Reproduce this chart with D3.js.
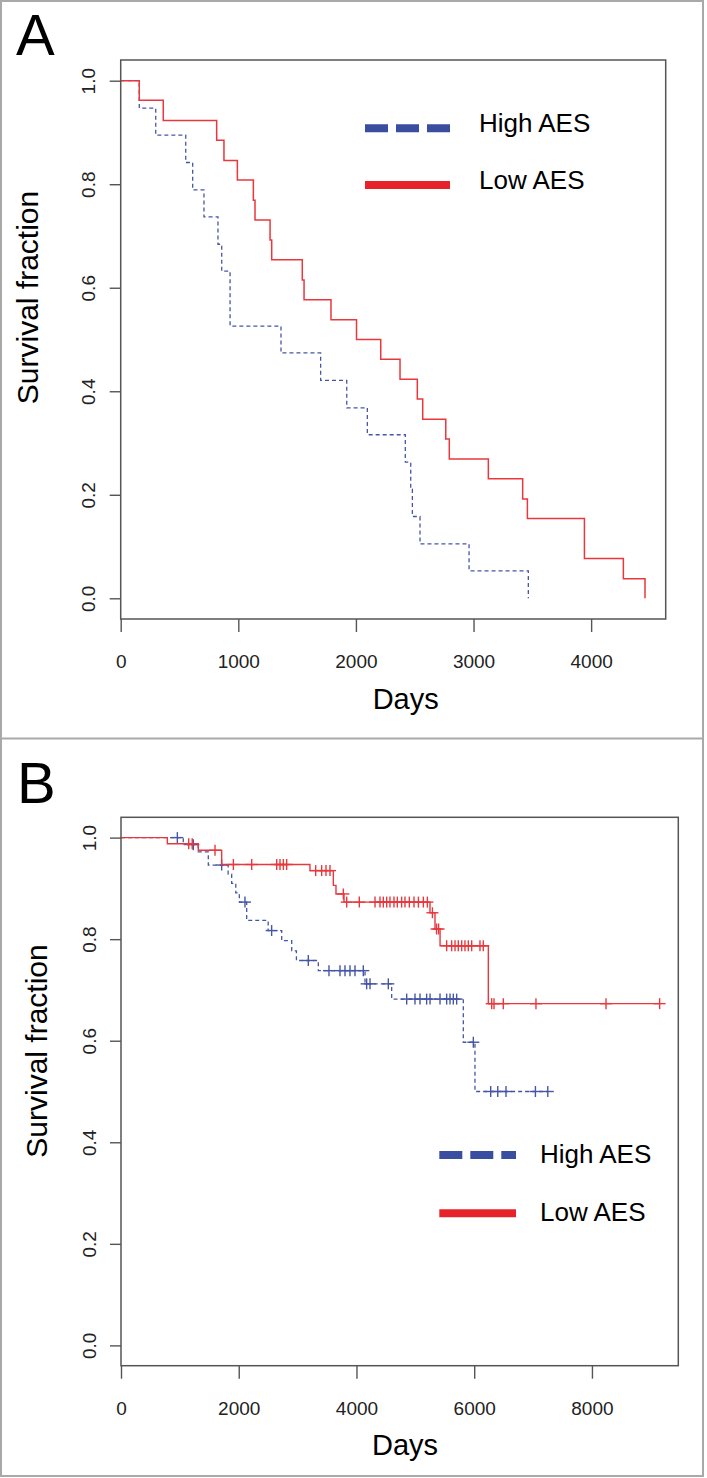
<!DOCTYPE html>
<html><head><meta charset="utf-8">
<script src="https://cdn.jsdelivr.net/npm/d3@7"></script>
<style>
body{margin:0;background:#fff}
svg{display:block}
text{font-family:"Liberation Sans",Arial,Helvetica,sans-serif}
</style>
</head><body>
<svg id="chart" width="707" height="1478"></svg>
<script>
// ---------- DATA ----------
const yTicks = [0, 0.2, 0.4, 0.6, 0.8, 1.0];
const yTickLabels = ["0.0", "0.2", "0.4", "0.6", "0.8", "1.0"];
const aXTicks = [0, 1000, 2000, 3000, 4000];
const bXTicks = [0, 2000, 4000, 6000, 8000];
const seriesNames = ["High AES", "Low AES"];

// Panel A  (Kaplan-Meier steps: time of event, survival after event)
const aHighTimes = [158, 298, 553, 612, 708, 827, 859, 930, 1363, 1700, 1922, 2097, 2420, 2466, 2480, 2545, 2962, 3466];
const aHighSurv  = [0.947, 0.895, 0.842, 0.789, 0.737, 0.684, 0.632, 0.526, 0.474, 0.421, 0.368, 0.316, 0.263, 0.211, 0.158, 0.105, 0.053, 0.0];
const aLowTimes  = [158, 362, 816, 878, 992, 1128, 1142, 1270, 1284, 1544, 1559, 1788, 2005, 2211, 2375, 2522, 2568, 2764, 2794, 3126, 3418, 3458, 3943, 4274, 4458];
const aLowSurv   = [0.962, 0.923, 0.885, 0.846, 0.808, 0.769, 0.731, 0.692, 0.654, 0.615, 0.577, 0.538, 0.500, 0.462, 0.423, 0.385, 0.346, 0.308, 0.269, 0.231, 0.192, 0.154, 0.077, 0.038, 0.0];

// Panel B
const bHighTimes  = [1058, 1313, 1483, 1820, 1880, 1950, 2010, 2135, 2500, 2730, 2900, 2980, 3352, 4145, 4598, 5815, 6013];
const bHighSurv   = [0.986, 0.972, 0.946, 0.928, 0.910, 0.891, 0.873, 0.837, 0.817, 0.797, 0.777, 0.758, 0.738, 0.712, 0.682, 0.597, 0.500];
const bHighCensor = [957, 1228, 1710, 2106, 2559, 3182, 3533, 3720, 3805, 3890, 3975, 4116, 4173, 4230, 4541, 4853, 4994, 5079, 5192, 5250, 5419, 5532, 5589, 5645, 5702, 5985, 6280, 6400, 6540, 7040, 7250];
const bLowTimes   = [787, 1313, 1710, 3210, 3607, 3652, 3788, 5249, 5334, 5420, 6240];
const bLowSurv    = [0.988, 0.975, 0.947, 0.935, 0.906, 0.889, 0.873, 0.852, 0.820, 0.787, 0.673];
const bLowCensor  = [1150, 1210, 1597, 1909, 2220, 2645, 2701, 2758, 2814, 3307, 3409, 3482, 3550, 3777, 3834, 4048, 4315, 4400, 4456, 4513, 4569, 4637, 4694, 4767, 4824, 4898, 4977, 5052, 5136, 5204, 5290, 5360, 5395, 5532, 5617, 5674, 5730, 5787, 5843, 5900, 5957, 6098, 6154, 6297, 6336, 6494, 7049, 8239, 9150];

// ---------- STYLE ----------
const RED = "#e8383d", BLUE = "#4556a6";
const RED_LEG = "#e6232a", BLUE_LEG = "#3a4ea0";
const AXIS = "#555";

const svg = d3.select("#chart");

// outer panel borders
svg.append("rect").attr("x", 1).attr("y", 1).attr("width", 702).attr("height", 1475)
  .attr("fill", "none").attr("stroke", "#a9a9a9").attr("stroke-width", 2);
svg.append("line").attr("x1", 1).attr("x2", 703).attr("y1", 738.5).attr("y2", 738.5)
  .attr("stroke", "#a9a9a9").attr("stroke-width", 2);

function survAt(times, surv, t) {
  const i = d3.bisectRight(times, t);
  return i === 0 ? 1 : surv[i - 1];
}

function drawPanel(p) {
  const x = d3.scaleLinear().domain(p.xDomain).range([p.left, p.right]);
  const y = d3.scaleLinear().domain([-0.04, 1.04]).range([p.bottom, p.top]);
  const g = svg.append("g");

  // panel letter
  g.append("text").attr("x", p.letterX).attr("y", p.letterY).attr("font-size", 58)
    .attr("fill", "#000").text(p.letter);

  // curves
  const line = d3.line().x(d => x(d[0])).y(d => y(d[1])).curve(d3.curveStepAfter);
  p.series.forEach(s => {
    const pts = [[0, 1]].concat(s.times.map((t, i) => [t, s.surv[i]]));
    if (s.end !== undefined) pts.push([s.end, s.surv[s.surv.length - 1]]);
    g.append("path").attr("d", line(pts)).attr("fill", "none")
      .attr("stroke", s.color).attr("stroke-width", s.width)
      .attr("stroke-dasharray", s.dash || null);
    if (s.censor) {
      const cg = g.append("g").attr("stroke", s.color).attr("stroke-width", 1.4);
      s.censor.forEach(c => {
        const cx = x(c), cy = y(survAt(s.times, s.surv, c));
        cg.append("line").attr("x1", cx - 6).attr("x2", cx + 6).attr("y1", cy).attr("y2", cy);
        cg.append("line").attr("x1", cx).attr("x2", cx).attr("y1", cy - 5.5).attr("y2", cy + 5.5);
      });
    }
  });

  // frame
  g.append("rect").attr("x", p.left).attr("y", p.top)
    .attr("width", p.right - p.left).attr("height", p.bottom - p.top)
    .attr("fill", "none").attr("stroke", AXIS).attr("stroke-width", 1.5);

  // x axis
  const xa = g.append("g").attr("transform", `translate(0,${p.bottom})`)
    .call(d3.axisBottom(x).tickValues(p.xTicks).tickSize(13).tickFormat(d3.format("d")));
  xa.select(".domain").remove();
  xa.selectAll(".tick line").attr("stroke", AXIS).attr("stroke-width", 1.4);
  xa.selectAll(".tick text").attr("y", 49).attr("dy", 0).attr("font-size", 19)
    .attr("fill", "#222").attr("font-family", '"Liberation Sans",Arial,sans-serif');

  // y axis
  const ya = g.append("g").attr("transform", `translate(${p.left},0)`)
    .call(d3.axisLeft(y).tickValues(yTicks).tickSize(11).tickFormat((d, i) => yTickLabels[i]));
  ya.select(".domain").remove();
  ya.selectAll(".tick line").attr("stroke", AXIS).attr("stroke-width", 1.4);
  ya.selectAll(".tick text").attr("x", 0).attr("dy", 0).attr("text-anchor", "middle")
    .attr("transform", "translate(-25.5,0) rotate(-90)").attr("font-size", 19)
    .attr("fill", "#222").attr("font-family", '"Liberation Sans",Arial,sans-serif');

  // axis titles
  g.append("text").attr("x", p.xTitleX).attr("y", p.xTitleY).attr("text-anchor", "middle")
    .attr("font-size", 29).attr("fill", "#000").text("Days");
  g.append("text").attr("text-anchor", "middle").attr("font-size", 30).attr("fill", "#000")
    .attr("transform", `translate(${p.yTitleX},${p.yTitleY}) rotate(-90)`).text("Survival fraction");

  // legend
  const lg = g.append("g");
  p.series.forEach((s, i) => {
    const ly = p.legY[i];
    lg.append("line").attr("x1", p.legX1).attr("x2", p.legX2).attr("y1", ly).attr("y2", ly)
      .attr("stroke", s.legColor).attr("stroke-width", 8)
      .attr("stroke-dasharray", s.dash ? "23,8" : null);
    lg.append("text").attr("x", p.legTextX).attr("y", ly + p.legTextDy).attr("font-size", 26)
      .attr("fill", "#000").text(seriesNames[i]);
  });
}

drawPanel({
  letter: "A", letterX: 16, letterY: 55,
  left: 120.7, right: 665.7, top: 60, bottom: 619,
  xDomain: [0, 4634], xTicks: aXTicks,
  xTitleX: 405.7, xTitleY: 709, yTitleX: 38, yTitleY: 297.5,
  legX1: 365, legX2: 450, legY: [128.3, 185], legTextX: 479, legTextDy: 3.5,
  series: [
    {times: aHighTimes, surv: aHighSurv, color: BLUE, width: 1.3, dash: "4,3", legColor: BLUE_LEG},
    {times: aLowTimes, surv: aLowSurv, color: RED, width: 1.5, legColor: RED_LEG}
  ]
});

drawPanel({
  letter: "B", letterX: 17, letterY: 802.7,
  left: 121, right: 678.3, top: 817.3, bottom: 1365.7,
  xDomain: [0, 9467], xTicks: bXTicks,
  xTitleX: 405, xTitleY: 1455, yTitleX: 46.5, yTitleY: 1051,
  legX1: 439.3, legX2: 516, legY: [1155, 1213.3], legTextX: 540, legTextDy: 8,
  series: [
    {times: bHighTimes, surv: bHighSurv, censor: bHighCensor, end: 7250, color: BLUE, width: 1.3, dash: "4,3", legColor: BLUE_LEG},
    {times: bLowTimes, surv: bLowSurv, censor: bLowCensor, end: 9150, color: RED, width: 1.4, legColor: RED_LEG}
  ]
});
</script>
</body></html>
